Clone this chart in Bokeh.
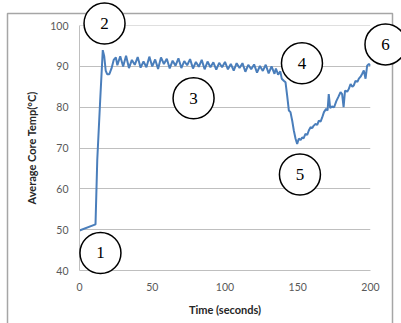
from bokeh.plotting import figure
from bokeh.models import Range1d, FixedTicker
from bokeh.core.properties import value
from bokeh.embed import file_html
from bokeh.resources import INLINE

# ---- data ----
time_s = [0, 11, 12.2, 14.2, 16, 17, 18, 19, 20.5, 22, 23.5, 25,
          26, 28, 30, 32, 34, 36, 38, 40, 42, 44, 46, 48, 50, 52, 54, 56, 58, 60,
          62, 64, 66, 68, 70, 72, 74, 76, 78, 80, 82, 84, 86, 88, 90, 92, 94, 96,
          98, 100, 102, 104, 106, 108, 110, 112, 114, 116, 118, 120, 122, 124,
          126, 128, 130, 132, 134, 135, 136.5, 138, 139, 140.4, 141.6,
          142.7, 143.9, 145, 146.2, 147.3, 148.5, 149.6, 150.7, 152, 153, 154,
          155.3, 156.5, 157.6, 158.8, 160, 161, 162.2, 163.4, 164.5, 165.7, 166.8,
          168, 169.5, 170.5, 171.3, 172.3, 173.5, 175, 176.5, 178, 179.4, 180.5,
          181.5, 182.5, 184, 185.1, 186.3, 187.5, 188.6, 189.7, 191, 192, 193.2,
          194.3, 195.4, 196.6, 197.7, 198.9, 200]
core_temp = [49.8, 51.3, 67.0, 81.6, 94.0, 92.5, 89.0, 88.1, 88.1, 89.5, 91.6, 92.2,
             90.3, 92.5, 90.0, 92.6, 89.6, 91.6, 90.4, 92.3, 89.7, 91.2, 89.8, 92.4, 90.0, 91.7, 89.4, 92.2, 90.6, 91.9,
             89.5, 91.4, 90.2, 92.0, 89.6, 91.3, 90.3, 91.8, 89.5, 91.1, 89.9, 91.6, 89.3, 91.2, 89.8, 91.0, 89.2, 90.9,
             89.8, 91.1, 89.3, 90.6, 89.0, 90.8, 89.6, 90.8, 88.7, 90.4, 89.3, 90.5, 88.5, 90.1,
             88.9, 90.4, 88.3, 90.0, 88.2, 89.5, 88.0, 88.8, 87.0, 86.5, 86.1,
             82.9, 79.2, 78.8, 76.7, 74.3, 72.3, 71.0, 72.3, 72.0, 72.6, 72.4,
             73.5, 73.2, 74.3, 75.1, 74.9, 75.5, 75.9, 75.7, 76.7, 76.5, 77.5,
             78.8, 79.6, 79.2, 83.2, 79.8, 80.2, 80.0, 81.5, 82.6, 83.7, 83.2,
             80.0, 84.1, 83.8, 84.5, 85.7, 85.0, 85.4, 86.5, 86.2, 87.0, 87.5,
             88.2, 89.0, 87.0, 90.2, 90.6, 90.2]
x_ticks = [0, 50, 100, 150, 200]
y_ticks = [40, 50, 60, 70, 80, 90, 100]
marker_labels = ["1", "2", "3", "4", "5", "6"]
marker_t = [14.4, 17.2, 78.4, 152.9, 151.5, 210.3]
marker_temp = [44.3, 100.5, 82.2, 90.8, 63.5, 95.4]

p = figure(width=401, height=323, output_backend="svg", toolbar_location=None,
           x_range=Range1d(0, 200), y_range=Range1d(40, 100.03),
           min_border_left=79, min_border_right=31, min_border_top=25,
           min_border_bottom=53)
p.outline_line_color = None
p.background_fill_color = "white"
p.border_fill_color = "white"

p.xgrid.grid_line_color = None
p.ygrid.grid_line_color = "#bfbfbf"
p.ygrid.grid_line_width = 1
p.xaxis.ticker = FixedTicker(ticks=x_ticks)
p.yaxis.ticker = FixedTicker(ticks=y_ticks)

for ax in (p.xaxis[0], p.yaxis[0]):
    ax.axis_line_color = "#bfbfbf"
    ax.axis_line_width = 1
    ax.major_tick_line_color = None
    ax.minor_tick_line_color = None
    ax.major_tick_out = 0
    ax.major_tick_in = 0
    ax.major_label_text_font = "Lato"
    ax.major_label_text_font_size = "10.5px"
    ax.major_label_text_color = "#595959"
    ax.axis_label_text_font = "Lato"
    ax.axis_label_text_font_style = "bold"
    ax.axis_label_text_font_size = "11px"
    ax.axis_label_text_color = "#262626"

p.xaxis.axis_label = "Time (seconds)"
p.yaxis.axis_label = "Average Core Temp(°C)"
p.xaxis.major_label_standoff = 12
p.yaxis.major_label_standoff = 11
p.xaxis.axis_label_standoff = 9
p.yaxis.axis_label_standoff = 9

# pixel-space ranges for the outer chart-area border (decoration only)
p.extra_x_ranges = {"px_x": Range1d(79, 370)}
p.extra_y_ranges = {"px_y": Range1d(270, 25)}
p.quad(left=[7], right=[392], top=[13], bottom=[345],
       x_range_name="px_x", y_range_name="px_y",
       fill_color=None, line_color="#a6a6a6", line_width=1.5, level="overlay")

p.line(time_s, core_temp, line_color="#4a7ebb", line_width=2)

p.scatter(marker_t, marker_temp, marker="circle", size=41, fill_color="white",
          line_color="black", line_width=1.5, level="overlay")
p.text(marker_t, marker_temp, text=marker_labels, text_font=value("Liberation Serif"),
       text_font_size="17px", text_align="center", text_baseline="middle",
       text_color="black", level="overlay")

open("out.html", "w").write(file_html(p, INLINE))
